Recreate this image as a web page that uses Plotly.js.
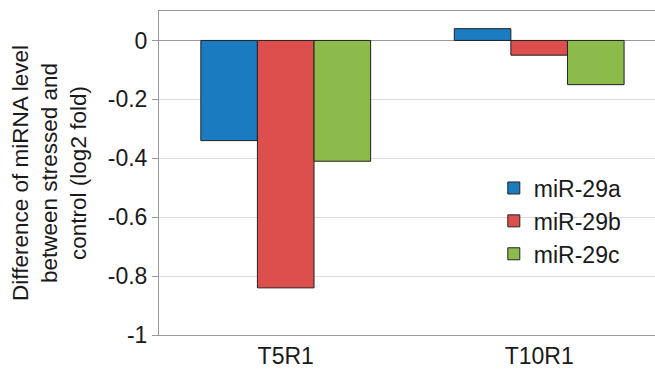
<!DOCTYPE html>
<html><head><meta charset="utf-8">
<script src="https://cdn.plot.ly/plotly-3.0.1.min.js"></script>
<style>html,body{margin:0;padding:0;background:#fff}</style>
</head><body>
<div id="chart" style="width:655px;height:377px"></div>
<script>
const categories = ['T5R1', 'T10R1'];
const seriesNames = ['miR-29a', 'miR-29b', 'miR-29c'];
const mir29a = [-0.34, 0.04];
const mir29b = [-0.84, -0.05];
const mir29c = [-0.41, -0.15];
const yTickVals = [0, -0.2, -0.4, -0.6, -0.8, -1];
const yTickText = ['0', '-0.2', '-0.4', '-0.6', '-0.8', '-1'];
const colors = ['#1b7bc0', '#dc4f4c', '#8cba4b'];

const values = [mir29a, mir29b, mir29c];
const traces = values.map((v, i) => ({
  type: 'bar', x: categories, y: v, name: seriesNames[i],
  marker: {color: colors[i], line: {color: '#222', width: 1}}
}));
const fam = 'Liberation Sans, Arial, sans-serif';
const tickFont = {family: fam, size: 23, color: '#1a1a1a'};
const titleFont = {family: fam, size: 22.5, color: '#1a1a1a'};
const legendFont = {family: fam, size: 23, color: '#1a1a1a'};
const layout = {
  width: 655, height: 377,
  margin: {l: 159, r: 0, t: 10.5, b: 42},
  font: tickFont,
  barmode: 'group', bargap: 0.33, bargroupgap: 0,
  paper_bgcolor: '#fff', plot_bgcolor: '#fff',
  xaxis: {
    type: 'category', range: [-0.5, 1.457],
    showline: true, linecolor: '#999', linewidth: 1, mirror: true,
    showgrid: false, ticks: '', tickfont: tickFont, fixedrange: true
  },
  yaxis: {
    range: [-1, 0.1], tickvals: yTickVals, ticktext: yTickText,
    showline: true, linecolor: '#999', linewidth: 1,
    ticks: 'outside', ticklen: 6, tickcolor: '#999',
    showgrid: true, gridcolor: '#dcdcdc', gridwidth: 1,
    zeroline: true, zerolinecolor: '#999', zerolinewidth: 1,
    tickfont: tickFont,
    title: {text: 'Difference of miRNA level<br>between stressed and<br>control (log2 fold)', font: titleFont, standoff: 14}
  },
  legend: {x: 0.675, y: 0.52, xanchor: 'left', yanchor: 'top', font: legendFont, bgcolor: 'rgba(0,0,0,0)', tracegroupgap: 0},
  showlegend: true
};
Plotly.newPlot('chart', traces, layout, {displayModeBar: false, staticPlot: true});
</script>
</body></html>
